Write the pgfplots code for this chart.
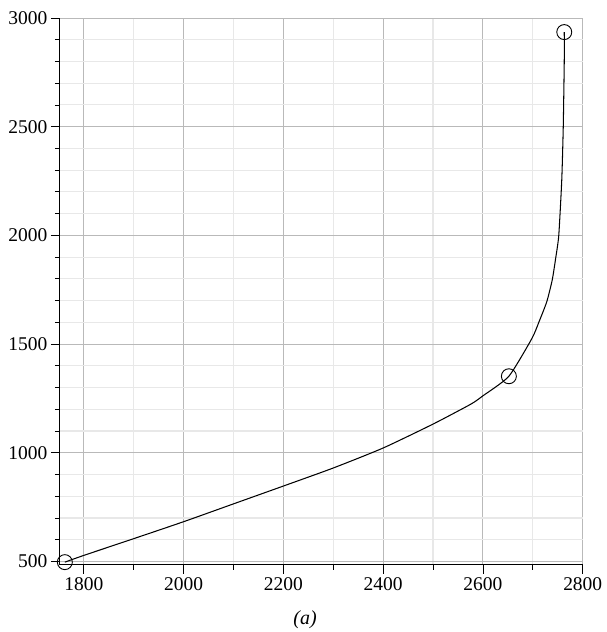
\documentclass[border=0pt]{standalone}
\usepackage{fontspec}
\setmainfont{Liberation Serif}
\usepackage{pgfplots}
\pgfplotsset{compat=1.18}

\begin{document}
\begin{tikzpicture}
\begin{axis}[
    scale only axis,
    width=524pt, height=548pt,
    xmin=1752, xmax=2800,
    ymin=485, ymax=3000,
    axis lines=left,
    axis line style={-, black, line width=0.8pt},
    tick align=outside,
    xtick={1800,2000,...,2800},
    ytick={500,1000,...,3000},
    minor x tick num=1,
    minor y tick num=4,
    major tick length=9pt,
    minor tick length=5pt,
    tick style={black, line width=0.8pt},
    grid=both,
    major grid style={gray!55, line width=0.9pt},
    minor grid style={gray!18, line width=1.1pt},
    ticklabel style={font=\fontsize{19.5}{22}\selectfont},
    /pgf/number format/assume math mode=true,
    /pgf/number format/set thousands separator={},
    clip=false,
]
\addplot[black, line width=1.05pt, mark=none, smooth, tension=0.35] coordinates {
(1762,497) (1800,528) (1900,605) (2000,683) (2100,765) (2200,847)
(2300,930) (2400,1022) (2500,1132) (2576,1224) (2600,1262)
(2652,1352) (2698,1525) (2712,1600) (2728,1695) (2739,1796) (2746,1898)
(2752,2000) (2758,2255) (2761,2500) (2763,2800) (2763,2935)
};
\addplot[only marks, mark=o, mark size=7.5pt, black, line width=0.9pt] coordinates {
(1762,497) (2652,1352) (2763,2935)
};
\coordinate (sw) at (rel axis cs:0,0);
\coordinate (ne) at (rel axis cs:1,1);
\node[font=\fontsize{20}{24}\selectfont\itshape] at ([yshift=-55pt]rel axis cs:0.469,0) {(a)};
\end{axis}
\path ([xshift=-60pt,yshift=-66pt]sw) rectangle ([xshift=24pt,yshift=18pt]ne);
\end{tikzpicture}
\end{document}
